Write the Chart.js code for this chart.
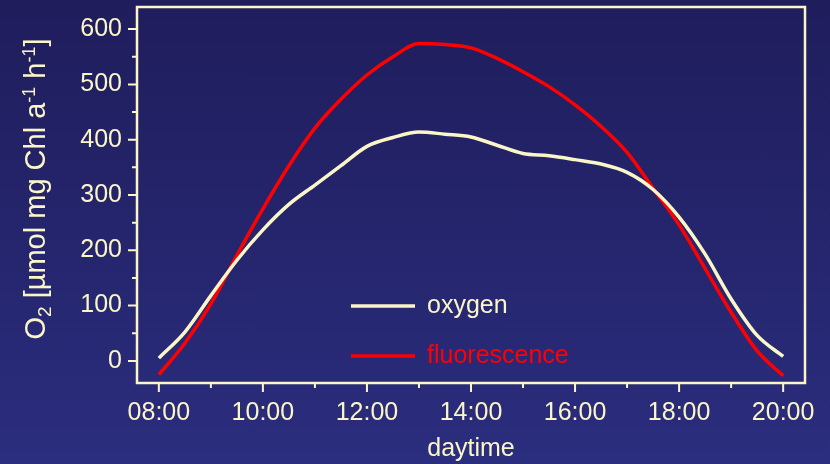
<!DOCTYPE html>
<html>
<head>
<meta charset="utf-8">
<script src="https://cdn.jsdelivr.net/npm/chart.js@4.4.1/dist/chart.umd.min.js"></script>
<style>
  html, body { margin: 0; padding: 0; }
  body { width: 830px; height: 464px; overflow: hidden; background: linear-gradient(#1f1d5c, #2b2d7e); }
</style>
</head>
<body>
<canvas id="chart" width="830" height="464"></canvas>
<script>
// data, every half hour
const hours = [8, 8.5, 9, 9.5, 10, 10.5, 11, 11.5, 12, 12.5, 13, 13.5, 14, 14.5, 15, 15.5, 16, 16.5, 17, 17.5, 18, 18.5, 19, 19.5, 20];
const oxygen = [5, 52, 118, 182, 237, 283, 318, 353, 388, 404, 414, 410, 405, 390, 375, 371, 364, 356, 341, 310, 260, 193, 112, 46, 8];
const fluorescence = [-25, 32, 103, 191, 275, 353, 421, 473, 517, 550, 574, 572, 566, 547, 523, 496, 463, 424, 377, 312, 246, 167, 88, 18, -27];

const xTickHours = [8, 10, 12, 14, 16, 18, 20];
const xTickLabels = ['08:00', '10:00', '12:00', '14:00', '16:00', '18:00', '20:00'];
const xMinorHours = [9, 11, 13, 15, 17, 19];
const yTicks = [0, 100, 200, 300, 400, 500, 600];
const yMinor = [50, 150, 250, 350, 450, 550];

const cream = '#fbf6c8';
const red = '#ff0000';
const font = 'Liberation Sans, Arial, sans-serif';

// frame round the plot area plus major / minor tick marks
const framePlugin = {
  id: 'frame',
  afterDraw(chart) {
    const ctx = chart.ctx;
    const a = chart.chartArea;
    const x = chart.scales.x, y = chart.scales.y;
    ctx.save();
    ctx.strokeStyle = cream;
    ctx.lineWidth = 2.5;
    ctx.strokeRect(a.left, a.top, a.right - a.left, a.bottom - a.top);
    ctx.lineWidth = 2;
    ctx.beginPath();
    yTicks.forEach(v => { const p = y.getPixelForValue(v); ctx.moveTo(a.left - 9, p); ctx.lineTo(a.left, p); });
    yMinor.forEach(v => { const p = y.getPixelForValue(v); ctx.moveTo(a.left - 5, p); ctx.lineTo(a.left, p); });
    xTickHours.forEach(v => { const p = x.getPixelForValue(v); ctx.moveTo(p, a.bottom); ctx.lineTo(p, a.bottom + 9); });
    xMinorHours.forEach(v => { const p = x.getPixelForValue(v); ctx.moveTo(p, a.bottom); ctx.lineTo(p, a.bottom + 5); });
    ctx.stroke();
    ctx.restore();
  }
};

// y title with subscript and superscripts
const yTitlePlugin = {
  id: 'ytitle',
  afterDraw(chart) {
    const ctx = chart.ctx;
    const a = chart.chartArea;
    const parts = [
      ['O', 29, 0], ['2', 19, 6], [' [µmol mg Chl a', 29, 0], ['-1', 18, -10],
      [' h', 29, 0], ['-1', 18, -10], [']', 29, 0]
    ];
    ctx.save();
    let total = 0;
    parts.forEach(p => { ctx.font = p[1] + 'px ' + font; total += ctx.measureText(p[0]).width; });
    ctx.translate(45, (a.top + a.bottom) / 2 - 6);
    ctx.rotate(-Math.PI / 2);
    ctx.fillStyle = cream;
    ctx.textBaseline = 'alphabetic';
    let u = -total / 2;
    parts.forEach(p => {
      ctx.font = p[1] + 'px ' + font;
      ctx.fillText(p[0], u, p[2]);
      u += ctx.measureText(p[0]).width;
    });
    ctx.restore();
  }
};

// legend inside the plot
const legendPlugin = {
  id: 'inlegend',
  afterDraw(chart) {
    const ctx = chart.ctx;
    const rows = [[306, 0], [356, 1]];
    ctx.save();
    rows.forEach(r => {
      const ds = chart.data.datasets[r[1]];
      ctx.strokeStyle = ds.borderColor;
      ctx.lineWidth = 3.5;
      ctx.beginPath();
      ctx.moveTo(351, r[0]);
      ctx.lineTo(415, r[0]);
      ctx.stroke();
      ctx.fillStyle = ds.borderColor;
      ctx.font = '25px ' + font;
      ctx.textBaseline = 'middle';
      ctx.fillText(ds.label, 427, r[0]);
    });
    ctx.restore();
  }
};

new Chart(document.getElementById('chart'), {
  type: 'line',
  data: {
    datasets: [
      {
        label: 'oxygen',
        data: hours.map((h, i) => ({ x: h, y: oxygen[i] })),
        borderColor: cream,
        borderWidth: 3.5,
        pointRadius: 0,
        cubicInterpolationMode: 'monotone'
      },
      {
        label: 'fluorescence',
        data: hours.map((h, i) => ({ x: h, y: fluorescence[i] })),
        borderColor: red,
        borderWidth: 3.5,
        pointRadius: 0,
        cubicInterpolationMode: 'monotone'
      }
    ]
  },
  options: {
    responsive: false,
    animation: false,
    layout: { padding: { top: 7, right: 25, left: 0, bottom: 0 } },
    plugins: { legend: { display: false }, tooltip: { enabled: false } },
    scales: {
      x: {
        type: 'linear',
        min: 7.58,
        max: 20.42,
        afterBuildTicks: s => { s.ticks = xTickHours.map(v => ({ value: v })); },
        afterFit: s => { s.height = 81; s.paddingLeft = 0; s.paddingRight = 0; },
        ticks: {
          callback: (v, i) => xTickLabels[i],
          color: cream,
          font: { family: font, size: 25 },
          padding: 15,
          maxRotation: 0,
          autoSkip: false
        },
        grid: { display: false, drawTicks: false },
        border: { display: false },
        title: { display: true, text: 'daytime', color: cream, font: { family: font, size: 25 }, padding: { top: 0, bottom: 0 } }
      },
      y: {
        min: -40,
        max: 640,
        afterBuildTicks: s => { s.ticks = yTicks.map(v => ({ value: v })); },
        afterFit: s => { s.width = 137; s.paddingTop = 0; s.paddingBottom = 0; },
        ticks: {
          color: cream,
          font: { family: font, size: 25 },
          padding: 15
        },
        grid: { display: false, drawTicks: false },
        border: { display: false }
      }
    }
  },
  plugins: [framePlugin, yTitlePlugin, legendPlugin]
});
</script>
</body>
</html>
